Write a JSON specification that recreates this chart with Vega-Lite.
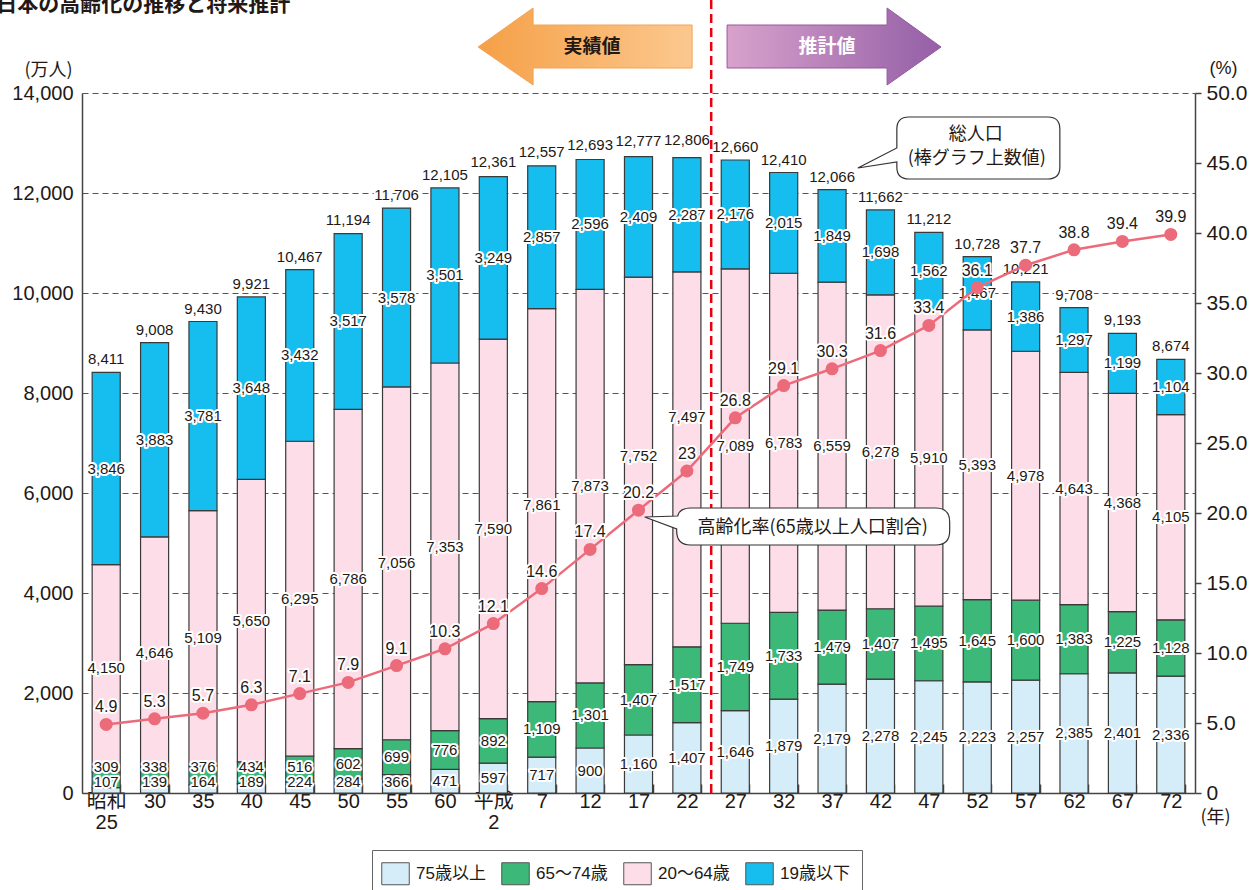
{
  "$schema": "https://vega.github.io/schema/vega-lite/v6.json",
  "width": 1113,
  "height": 700,
  "autosize": {"type": "none"},
  "padding": {"left": 82, "top": 93, "right": 57, "bottom": 97},
  "background": "white",
  "config": {
    "view": {"stroke": null},
    "font": "Noto Sans CJK JP",
    "legend": {
      "orient": "none",
      "legendX": 290,
      "legendY": 757,
      "direction": "horizontal",
      "strokeColor": "#666",
      "fillColor": "white",
      "padding": 12,
      "symbolType": "M-1.25,-1H1.25V1H-1.25Z",
      "symbolSize": 484,
      "symbolStrokeColor": "#555",
      "symbolStrokeWidth": 1,
      "symbolOpacity": 1,
      "labelFont": "Liberation Sans, Noto Sans CJK JP",
      "labelFontSize": 17,
      "labelColor": "#231815",
      "labelOffset": 9,
      "columnPadding": 13
    }
  },
  "datasets": {
    "pop": [
      {"cat": "昭和25", "75歳以上": 107, "65～74歳": 309, "20～64歳": 4150, "19歳以下": 3846, "総人口": 8411, "高齢化率": 4.9},
      {"cat": "30", "75歳以上": 139, "65～74歳": 338, "20～64歳": 4646, "19歳以下": 3883, "総人口": 9008, "高齢化率": 5.3},
      {"cat": "35", "75歳以上": 164, "65～74歳": 376, "20～64歳": 5109, "19歳以下": 3781, "総人口": 9430, "高齢化率": 5.7},
      {"cat": "40", "75歳以上": 189, "65～74歳": 434, "20～64歳": 5650, "19歳以下": 3648, "総人口": 9921, "高齢化率": 6.3},
      {"cat": "45", "75歳以上": 224, "65～74歳": 516, "20～64歳": 6295, "19歳以下": 3432, "総人口": 10467, "高齢化率": 7.1},
      {"cat": "50", "75歳以上": 284, "65～74歳": 602, "20～64歳": 6786, "19歳以下": 3517, "総人口": 11194, "高齢化率": 7.9},
      {"cat": "55", "75歳以上": 366, "65～74歳": 699, "20～64歳": 7056, "19歳以下": 3578, "総人口": 11706, "高齢化率": 9.1},
      {"cat": "60", "75歳以上": 471, "65～74歳": 776, "20～64歳": 7353, "19歳以下": 3501, "総人口": 12105, "高齢化率": 10.3},
      {"cat": "平成2", "75歳以上": 597, "65～74歳": 892, "20～64歳": 7590, "19歳以下": 3249, "総人口": 12361, "高齢化率": 12.1},
      {"cat": "7", "75歳以上": 717, "65～74歳": 1109, "20～64歳": 7861, "19歳以下": 2857, "総人口": 12557, "高齢化率": 14.6},
      {"cat": "12", "75歳以上": 900, "65～74歳": 1301, "20～64歳": 7873, "19歳以下": 2596, "総人口": 12693, "高齢化率": 17.4},
      {"cat": "17", "75歳以上": 1160, "65～74歳": 1407, "20～64歳": 7752, "19歳以下": 2409, "総人口": 12777, "高齢化率": 20.2},
      {"cat": "22", "75歳以上": 1407, "65～74歳": 1517, "20～64歳": 7497, "19歳以下": 2287, "総人口": 12806, "高齢化率": 23},
      {"cat": "27", "75歳以上": 1646, "65～74歳": 1749, "20～64歳": 7089, "19歳以下": 2176, "総人口": 12660, "高齢化率": 26.8},
      {"cat": "32", "75歳以上": 1879, "65～74歳": 1733, "20～64歳": 6783, "19歳以下": 2015, "総人口": 12410, "高齢化率": 29.1},
      {"cat": "37", "75歳以上": 2179, "65～74歳": 1479, "20～64歳": 6559, "19歳以下": 1849, "総人口": 12066, "高齢化率": 30.3},
      {"cat": "42", "75歳以上": 2278, "65～74歳": 1407, "20～64歳": 6278, "19歳以下": 1698, "総人口": 11662, "高齢化率": 31.6},
      {"cat": "47", "75歳以上": 2245, "65～74歳": 1495, "20～64歳": 5910, "19歳以下": 1562, "総人口": 11212, "高齢化率": 33.4},
      {"cat": "52", "75歳以上": 2223, "65～74歳": 1645, "20～64歳": 5393, "19歳以下": 1467, "総人口": 10728, "高齢化率": 36.1},
      {"cat": "57", "75歳以上": 2257, "65～74歳": 1600, "20～64歳": 4978, "19歳以下": 1386, "総人口": 10221, "高齢化率": 37.7},
      {"cat": "62", "75歳以上": 2385, "65～74歳": 1383, "20～64歳": 4643, "19歳以下": 1297, "総人口": 9708, "高齢化率": 38.8},
      {"cat": "67", "75歳以上": 2401, "65～74歳": 1225, "20～64歳": 4368, "19歳以下": 1199, "総人口": 9193, "高齢化率": 39.4},
      {"cat": "72", "75歳以上": 2336, "65～74歳": 1128, "20～64歳": 4105, "19歳以下": 1104, "総人口": 8674, "高齢化率": 39.9}
    ]
  },
  "data": {"name": "pop"},
  "encoding": {
    "x": {
      "field": "cat",
      "type": "nominal",
      "sort": null,
      "scale": {
        "domain": ["昭和25", "30", "35", "40", "45", "50", "55", "60", "平成2", "7", "12", "17", "22", "27", "32", "37", "42", "47", "52", "57", "62", "67", "72"],
        "paddingInner": 0.42,
        "paddingOuter": 0.21
      },
      "axis": {
        "orient": "bottom",
        "title": "(年)",
        "titleX": 1133,
        "titleY": 24,
        "titleAlign": "center",
        "titleBaseline": "middle",
        "titleFontSize": 18,
        "titleFontWeight": "normal",
        "titleColor": "#231815",
        "titleFont": "Noto Sans CJK JP",
        "labelAngle": 0,
        "labelExpr": "datum.value == '昭和25' ? ['昭和','25'] : datum.value == '平成2' ? ['平成','2'] : datum.value",
        "labelFont": "Liberation Sans, Noto Sans CJK JP",
        "labelFontSize": 20,
        "labelColor": "#231815",
        "labelLineHeight": 21,
        "labelBaseline": "top",
        "labelPadding": 7,
        "tickBand": "extent",
        "tickSize": -9,
        "tickColor": "#444",
        "tickWidth": 1.5,
        "domainColor": "#444",
        "domainWidth": 1.5,
        "grid": false
      }
    }
  },
  "layer": [
    {
      "layer": [
        {
          "transform": [
            {"fold": ["75歳以上", "65～74歳", "20～64歳", "19歳以下"], "as": ["grp", "val"]},
            {"calculate": "indexof(['75歳以上','65～74歳','20～64歳','19歳以下'], datum.grp)", "as": "ord"},
            {"stack": "val", "groupby": ["cat"], "sort": [{"field": "ord", "order": "ascending"}], "as": ["v0", "v1"]},
            {"calculate": "(datum.v0 + datum.v1) / 2", "as": "mid"},
            {"calculate": "datum['高齢化率'] * 280 + 340", "as": "rl"},
            {"calculate": "datum.ord == 0 ? max(datum.mid, 220) : datum.ord == 1 ? max(datum.mid, 520) : (datum.ord == 2 && abs(datum.mid - datum.rl) < 700) ? datum.rl + 750 : datum.mid", "as": "ly"}
          ],
          "layer": [
            {
              "mark": {"type": "bar", "stroke": "#3a3a3a", "strokeWidth": 1.2},
              "encoding": {
                "y": {
                  "field": "v1",
                  "type": "quantitative",
                  "scale": {"domain": [0, 14000], "nice": false, "zero": true},
                  "axis": {
                    "orient": "left",
                    "values": [0, 2000, 4000, 6000, 8000, 10000, 12000, 14000],
                    "labelExpr": "format(datum.value, ',')",
                    "title": "(万人)",
                    "titleAngle": 0,
                    "titleX": -34,
                    "titleY": -23,
                    "titleAlign": "center",
                    "titleBaseline": "middle",
                    "titleFontSize": 18,
                    "titleFontWeight": "normal",
                    "titleColor": "#231815",
                    "titleFont": "Noto Sans CJK JP",
                    "labelFont": "Liberation Sans",
                    "labelFontSize": 20,
                    "labelColor": "#231815",
                    "labelPadding": 9,
                    "ticks": false,
                    "domainColor": "#444",
                    "domainWidth": 1.5,
                    "grid": true,
                    "gridDash": [6, 4],
                    "gridColor": "#555",
                    "gridWidth": 1
                  }
                },
                "y2": {"field": "v0"},
                "color": {
                  "field": "grp",
                  "type": "nominal",
                  "scale": {
                    "domain": ["75歳以上", "65～74歳", "20～64歳", "19歳以下"],
                    "range": ["#d5edf9", "#3cb878", "#fcdde8", "#16bdef"]
                  },
                  "legend": {"title": null}
                }
              }
            },
            {
              "mark": {"type": "text", "font": "Liberation Sans", "fontSize": 15, "fill": "white", "stroke": "white", "strokeWidth": 4, "strokeJoin": "round", "baseline": "middle"},
              "encoding": {
                "y": {"field": "ly", "type": "quantitative"},
                "text": {"field": "val", "type": "quantitative", "format": ","}
              }
            },
            {
              "mark": {"type": "text", "font": "Liberation Sans", "fontSize": 15, "fill": "#231815", "baseline": "middle"},
              "encoding": {
                "y": {"field": "ly", "type": "quantitative"},
                "text": {"field": "val", "type": "quantitative", "format": ","}
              }
            }
          ]
        },
        {
          "mark": {"type": "text", "font": "Liberation Sans", "fontSize": 15, "fill": "white", "stroke": "white", "strokeWidth": 4, "strokeJoin": "round", "baseline": "middle", "dy": -13},
          "encoding": {
            "y": {"field": "総人口", "type": "quantitative"},
            "text": {"field": "総人口", "type": "quantitative", "format": ","}
          }
        },
        {
          "mark": {"type": "text", "font": "Liberation Sans", "fontSize": 15, "fill": "#231815", "baseline": "middle", "dy": -13},
          "encoding": {
            "y": {"field": "総人口", "type": "quantitative"},
            "text": {"field": "総人口", "type": "quantitative", "format": ","}
          }
        },
        {
          "data": {"values": [{"cat": "27"}]},
          "mark": {"type": "rule", "color": "#e60012", "strokeWidth": 2.5, "strokeDash": [9, 5]},
          "encoding": {
            "x": {"field": "cat", "type": "nominal", "bandPosition": -0.358},
            "y": {"datum": 0, "type": "quantitative"},
            "y2": {"datum": 15860}
          }
        },
        {
          "data": {"values": [{"cat": "12", "v": 14920}]},
          "mark": {
            "type": "point",
            "shape": "M-112,0L-57,-39L-57,-22L102,-22L102,21L-57,21L-57,38Z",
            "size": 4,
            "filled": true,
            "opacity": 1,
            "fill": {"gradient": "linear", "x1": 0, "y1": 0, "x2": 1, "y2": 0, "stops": [{"offset": 0, "color": "#f5a047"}, {"offset": 1, "color": "#fcc88f"}]},
            "stroke": "#f2a456",
            "strokeWidth": 1
          },
          "encoding": {"y": {"field": "v", "type": "quantitative"}}
        },
        {
          "data": {"values": [{"cat": "12", "v": 14920, "t": "実績値"}]},
          "mark": {"type": "text", "fontSize": 19, "fontWeight": "bold", "fill": "#231815", "dx": 2, "baseline": "middle"},
          "encoding": {"y": {"field": "v", "type": "quantitative"}, "text": {"field": "t"}}
        },
        {
          "data": {"values": [{"cat": "37", "v": 14920}]},
          "mark": {
            "type": "point",
            "shape": "M-105,-22L55,-22L55,-39L109,0L55,38L55,21L-105,21Z",
            "size": 4,
            "filled": true,
            "opacity": 1,
            "fill": {"gradient": "linear", "x1": 0, "y1": 0, "x2": 1, "y2": 0, "stops": [{"offset": 0, "color": "#d8a2cc"}, {"offset": 1, "color": "#945fa6"}]},
            "stroke": "#96599f",
            "strokeWidth": 1
          },
          "encoding": {"y": {"field": "v", "type": "quantitative"}}
        },
        {
          "data": {"values": [{"cat": "37", "v": 14920, "t": "推計値"}]},
          "mark": {"type": "text", "fontSize": 19, "fontWeight": "bold", "fill": "white", "dx": -5, "baseline": "middle"},
          "encoding": {"y": {"field": "v", "type": "quantitative"}, "text": {"field": "t"}}
        },
        {
          "data": {"values": [{"cat": "昭和25", "v": 15760, "t": "日本の高齢化の推移と将来推計"}]},
          "mark": {"type": "text", "fontSize": 21, "fontWeight": "bold", "fill": "#231815", "align": "left", "dx": -110, "baseline": "middle"},
          "encoding": {"y": {"field": "v", "type": "quantitative"}, "text": {"field": "t"}}
        },
        {
          "data": {"values": [{"cat": "47", "v": 12900}]},
          "mark": {
            "type": "point",
            "shape": "M-20,-31H119Q131,-31 131,-19V19Q131,31 119,31H-20Q-32,31 -32,19V14L-71,20L-32,0V-19Q-32,-31 -20,-31Z",
            "size": 4,
            "filled": true,
            "opacity": 1,
            "fill": "white",
            "stroke": "#333",
            "strokeWidth": 1.2
          },
          "encoding": {"y": {"field": "v", "type": "quantitative"}}
        },
        {
          "data": {"values": [{"cat": "47", "v": 12900, "t": "総人口"}]},
          "mark": {"type": "text", "fontSize": 18, "fill": "#231815", "dx": 47, "dy": -13, "baseline": "middle"},
          "encoding": {"y": {"field": "v", "type": "quantitative"}, "text": {"field": "t"}}
        },
        {
          "data": {"values": [{"cat": "47", "v": 12900, "t": "(棒グラフ上数値)"}]},
          "mark": {"type": "text", "fontSize": 18, "fill": "#231815", "dx": 48, "dy": 11, "baseline": "middle"},
          "encoding": {"y": {"field": "v", "type": "quantitative"}, "text": {"field": "t"}}
        },
        {
          "data": {"values": [{"cat": "32", "v": 5320}]},
          "mark": {
            "type": "point",
            "shape": "M-93,-19H152Q166,-19 166,-5V4Q166,18 152,18H-93Q-107,18 -107,4V2L-139,-10L-106,-11Q-104,-19 -93,-19Z",
            "size": 4,
            "filled": true,
            "opacity": 1,
            "fill": "white",
            "stroke": "#333",
            "strokeWidth": 1.2
          },
          "encoding": {"y": {"field": "v", "type": "quantitative"}}
        },
        {
          "data": {"values": [{"cat": "32", "v": 5320, "t": "高齢化率(65歳以上人口割合)"}]},
          "mark": {"type": "text", "fontSize": 18, "fill": "#231815", "dx": 29, "dy": 1, "baseline": "middle"},
          "encoding": {"y": {"field": "v", "type": "quantitative"}, "text": {"field": "t"}}
        }
      ]
    },
    {
      "layer": [
        {
          "mark": {"type": "line", "color": "#ec6b7b", "strokeWidth": 2.5},
          "encoding": {
            "y": {
              "field": "高齢化率",
              "type": "quantitative",
              "scale": {"domain": [0, 50], "nice": false, "zero": true},
              "axis": {
                "orient": "right",
                "values": [0, 5, 10, 15, 20, 25, 30, 35, 40, 45, 50],
                "labelExpr": "datum.value == 0 ? '0' : format(datum.value, '.1f')",
                "title": "(%)",
                "titleAngle": 0,
                "titleX": 28,
                "titleY": -25,
                "titleAlign": "center",
                "titleBaseline": "middle",
                "titleFontSize": 18,
                "titleFontWeight": "normal",
                "titleColor": "#231815",
                "titleFont": "Liberation Sans",
                "labelFont": "Liberation Sans",
                "labelFontSize": 21,
                "labelColor": "#231815",
                "labelPadding": 5,
                "tickSize": 6,
                "tickColor": "#444",
                "tickWidth": 1.5,
                "domainColor": "#444",
                "domainWidth": 1.5,
                "grid": false
              }
            }
          }
        },
        {
          "mark": {"type": "point", "filled": true, "size": 170, "color": "#ec6b7b", "opacity": 1},
          "encoding": {"y": {"field": "高齢化率", "type": "quantitative"}}
        },
        {
          "mark": {"type": "text", "font": "Liberation Sans", "fontSize": 16, "fill": "white", "stroke": "white", "strokeWidth": 4, "strokeJoin": "round", "baseline": "middle", "dy": -17},
          "encoding": {
            "y": {"field": "高齢化率", "type": "quantitative"},
            "text": {"field": "高齢化率", "type": "quantitative", "format": ".1~f"}
          }
        },
        {
          "mark": {"type": "text", "font": "Liberation Sans", "fontSize": 16, "fill": "#231815", "baseline": "middle", "dy": -17},
          "encoding": {
            "y": {"field": "高齢化率", "type": "quantitative"},
            "text": {"field": "高齢化率", "type": "quantitative", "format": ".1~f"}
          }
        }
      ]
    }
  ],
  "resolve": {"scale": {"y": "independent"}}
}
